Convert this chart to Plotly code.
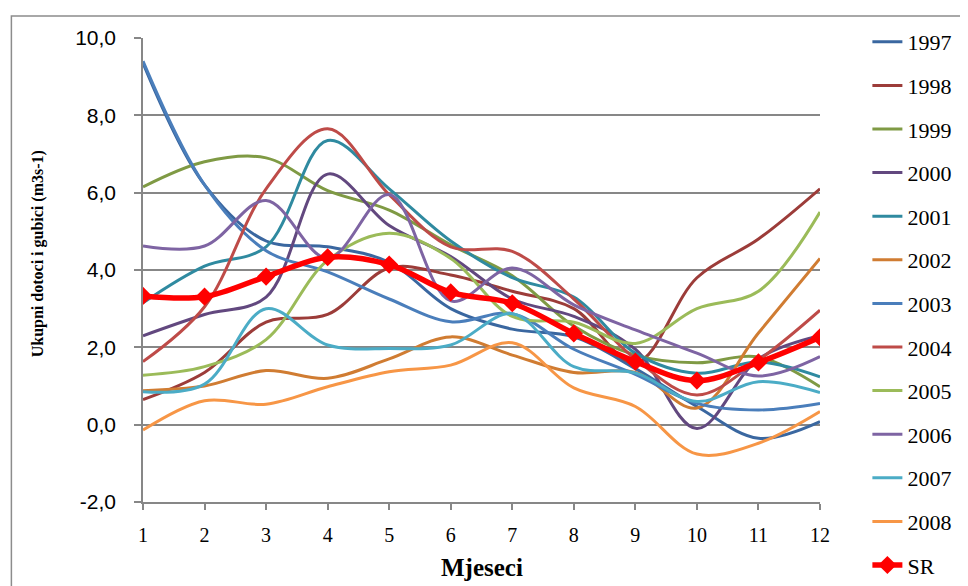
import plotly.graph_objects as go

# months on the x axis
months = [1, 2, 3, 4, 5, 6, 7, 8, 9, 10, 11, 12]

# y axis ticks
ytick_vals = [-2, 0, 2, 4, 6, 8, 10]
ytick_text = ["-2,0", "0,0", "2,0", "4,0", "6,0", "8,0", "10,0"]

# yearly series (m3s-1)
y1997 = [9.35, 6.2, 4.75, 4.6, 4.2, 3.0, 2.47, 2.27, 1.45, 0.47, -0.35, 0.08]
y1998 = [0.65, 1.35, 2.65, 2.85, 4.05, 3.87, 3.45, 3.0, 1.6, 3.8, 4.8, 6.1]
y1999 = [6.15, 6.8, 6.9, 6.05, 5.55, 4.65, 3.85, 2.55, 1.8, 1.6, 1.75, 0.98]
y2000 = [2.3, 2.85, 3.3, 6.48, 5.15, 4.35, 3.25, 2.8, 1.95, -0.1, 1.7, 2.3]
y2001 = [3.15, 4.1, 4.6, 7.35, 6.1, 4.75, 3.8, 3.3, 1.85, 1.33, 1.62, 1.24]
y2002 = [0.88, 1.0, 1.4, 1.2, 1.7, 2.27, 1.8, 1.35, 1.35, 0.43, 2.37, 4.3]
y2003 = [9.4, 6.2, 4.5, 3.95, 3.25, 2.66, 2.87, 1.95, 1.3, 0.55, 0.38, 0.55]
y2004 = [1.63, 3.05, 6.1, 7.65, 5.95, 4.6, 4.48, 3.25, 1.7, 0.77, 1.67, 2.96]
y2005 = [1.28, 1.5, 2.2, 4.25, 4.95, 4.3, 2.8, 2.65, 2.1, 3.0, 3.45, 5.5]
y2006 = [4.62, 4.62, 5.8, 4.3, 5.95, 3.2, 4.05, 3.1, 2.45, 1.85, 1.26, 1.76]
y2007 = [0.85, 1.05, 3.0, 2.06, 1.97, 2.06, 2.87, 1.5, 1.34, 0.6, 1.11, 0.83]
y2008 = [-0.14, 0.62, 0.53, 0.98, 1.37, 1.54, 2.12, 0.95, 0.47, -0.76, -0.48, 0.34]
ySR = [3.33, 3.31, 3.83, 4.33, 4.14, 3.42, 3.14, 2.36, 1.63, 1.14, 1.61, 2.26]

years = ["1997", "1998", "1999", "2000", "2001", "2002",
         "2003", "2004", "2005", "2006", "2007", "2008"]
series = [y1997, y1998, y1999, y2000, y2001, y2002,
          y2003, y2004, y2005, y2006, y2007, y2008]
colors = ["#3A67A0", "#9C3C39", "#7F9A44", "#62487F", "#2F8AA0", "#D07C32",
          "#4A7EBB", "#BE4B48", "#9BBB59", "#7E64A3", "#4BACC6", "#F79646"]

serif = 'Liberation Serif, Times New Roman, serif'

fig = go.Figure()
for name, vals, col in zip(years, series, colors):
    fig.add_trace(go.Scatter(
        x=months, y=vals, name=name, mode='lines',
        line=dict(color=col, width=3, shape='spline', smoothing=1.0),
        legendgroup=name))

fig.add_trace(go.Scatter(
    x=months, y=ySR, name='SR', mode='lines+markers',
    line=dict(color='#FF0000', width=5.5, shape='spline', smoothing=1.0),
    marker=dict(symbol='diamond', size=14, color='#FF0000'),
    legendgroup='SR'))

grid = '#878787'
# page body has an 8px margin, so the figure is 8px smaller than the window
fig.update_layout(
    width=960, height=578,
    margin=dict(l=135, r=146, t=30, b=84),
    paper_bgcolor='white', plot_bgcolor='white',
    font=dict(family=serif, color='black'),
    showlegend=True,
    legend=dict(x=1.07, y=1.0285, xanchor='left', yanchor='top',
                font=dict(family=serif, size=22, color='black'),
                tracegroupgap=12, maxheight=700, bgcolor='rgba(0,0,0,0)'),
    xaxis=dict(range=[1, 12], tickvals=months, showgrid=False,
               showline=True, linecolor=grid, linewidth=1.5,
               ticks='outside', ticklen=6, tickcolor=grid, tickwidth=1.5,
               ticklabelstandoff=8,
               tickfont=dict(family=serif, size=20, color='black'),
               zeroline=False),
    yaxis=dict(range=[-2, 10], tickvals=ytick_vals, ticktext=ytick_text,
               showgrid=True, gridcolor=grid, gridwidth=1.5,
               showline=True, linecolor=grid, linewidth=1.5,
               ticks='outside', ticklen=7, tickcolor=grid, tickwidth=1.5,
               ticklabelstandoff=14,
               tickfont=dict(family='Liberation Sans', size=21, color='black'),
               zeroline=False),
    shapes=[dict(type='rect', xref='paper', yref='paper',
                 x0=-0.1944, x1=1.3, y0=-0.3, y1=1.0474,
                 line=dict(color='#8c8c8c', width=1.5), layer='below')],
    annotations=[
        dict(text='<b>Mjeseci</b>', xref='paper', yref='paper',
             x=0.5, y=-0.142, xanchor='center', yanchor='middle',
             showarrow=False,
             font=dict(family=serif, size=25, color='black')),
        dict(text='<b>Ukupni dotoci i gubici (m3s-1)</b>', xref='paper', yref='paper',
             x=-0.155, y=0.534, xanchor='center', yanchor='middle',
             textangle=-90, showarrow=False,
             font=dict(family=serif, size=16, color='black')),
    ],
)

fig.write_html("out.html")
